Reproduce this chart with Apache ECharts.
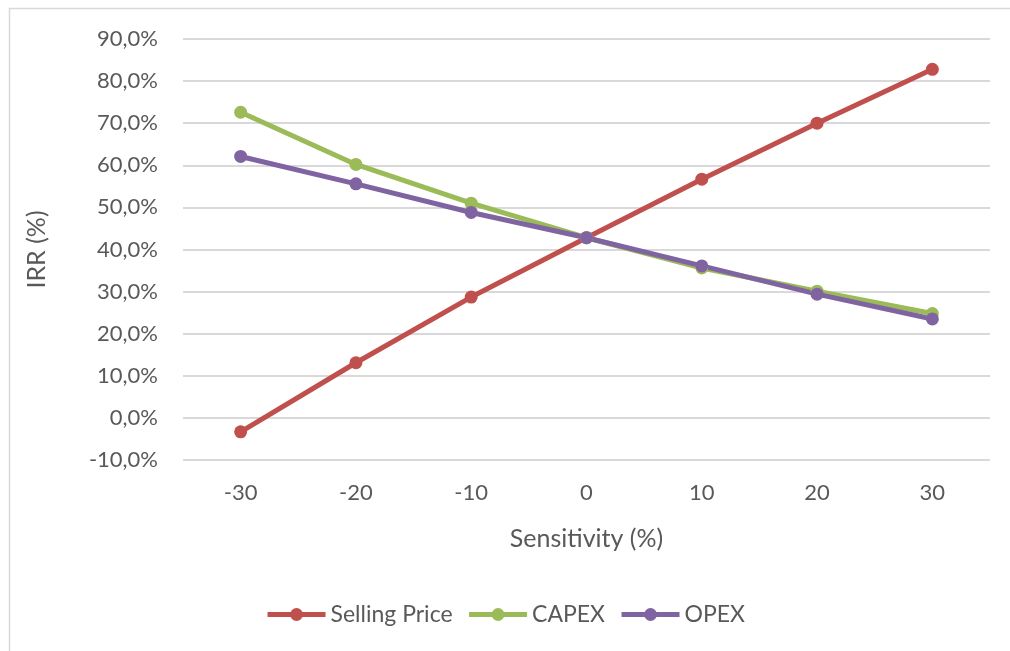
<!DOCTYPE html>
<html>
<head>
<meta charset="utf-8">
<script src="https://cdn.jsdelivr.net/npm/echarts@6/dist/echarts.min.js"></script>
<style>html,body{margin:0;padding:0;background:#fff;}#c{width:1010px;height:651px;}</style>
</head>
<body>
<div id="c"></div>
<script>
const categories = ['-30', '-20', '-10', '0', '10', '20', '30'];
const sellingPrice = [-3.3, 13.1, 28.7, 42.8, 56.7, 70.0, 82.8];
const capex = [72.6, 60.2, 51.0, 42.8, 35.6, 30.1, 24.8];
const opex = [62.1, 55.6, 48.8, 42.8, 36.1, 29.4, 23.5];
const yTicks = { min: -10, max: 90, interval: 10 };

const FONT = 'Lato';
const TXT = '#595959';
const chart = echarts.init(document.getElementById('c'), null, { renderer: 'canvas' });
function mk(name, data, color) {
  return {
    name, type: 'line', data,
    symbol: 'circle', symbolSize: 13,
    lineStyle: { width: 5, color },
    itemStyle: { color },
    z: 3
  };
}
chart.setOption({
  animation: false,
  textStyle: { fontFamily: FONT },
  graphic: [{
    type: 'rect', left: 7, top: 6,
    shape: { width: 1100, height: 700 },
    style: { fill: 'none', stroke: '#d9d9d9', lineWidth: 1.5 },
    silent: true, z: -1
  }],
  grid: { left: 183, right: 20, top: 39, bottom: 191, containLabel: false },
  legend: {
    bottom: 20, left: 'center',
    itemWidth: 58, itemHeight: 16, itemGap: 14,
    lineStyle: { width: 5 },
    textStyle: { color: TXT, fontSize: 23, fontFamily: FONT },
    data: ['Selling Price', 'CAPEX', 'OPEX']
  },
  xAxis: {
    type: 'category', data: categories, boundaryGap: true,
    name: 'Sensitivity (%)', nameLocation: 'middle', nameGap: 66,
    nameTextStyle: { color: TXT, fontSize: 25, fontFamily: FONT },
    axisLine: { show: false }, axisTick: { show: false },
    axisLabel: { color: TXT, fontSize: 22, margin: 22, fontFamily: FONT }
  },
  yAxis: {
    type: 'value', min: yTicks.min, max: yTicks.max, interval: yTicks.interval,
    name: 'IRR (%)', nameLocation: 'middle', nameGap: 134,
    nameTextStyle: { color: TXT, fontSize: 25, fontFamily: FONT },
    axisLine: { show: false }, axisTick: { show: false },
    axisLabel: {
      color: TXT, fontSize: 22, margin: 25, fontFamily: FONT,
      formatter: v => v.toFixed(1).replace('.', ',') + '%'
    },
    splitLine: { lineStyle: { color: '#d9d9d9', width: 2 } }
  },
  series: [
    mk('Selling Price', sellingPrice, '#C0504D'),
    mk('CAPEX', capex, '#9BBB59'),
    mk('OPEX', opex, '#8064A2')
  ]
});
</script>
</body>
</html>
